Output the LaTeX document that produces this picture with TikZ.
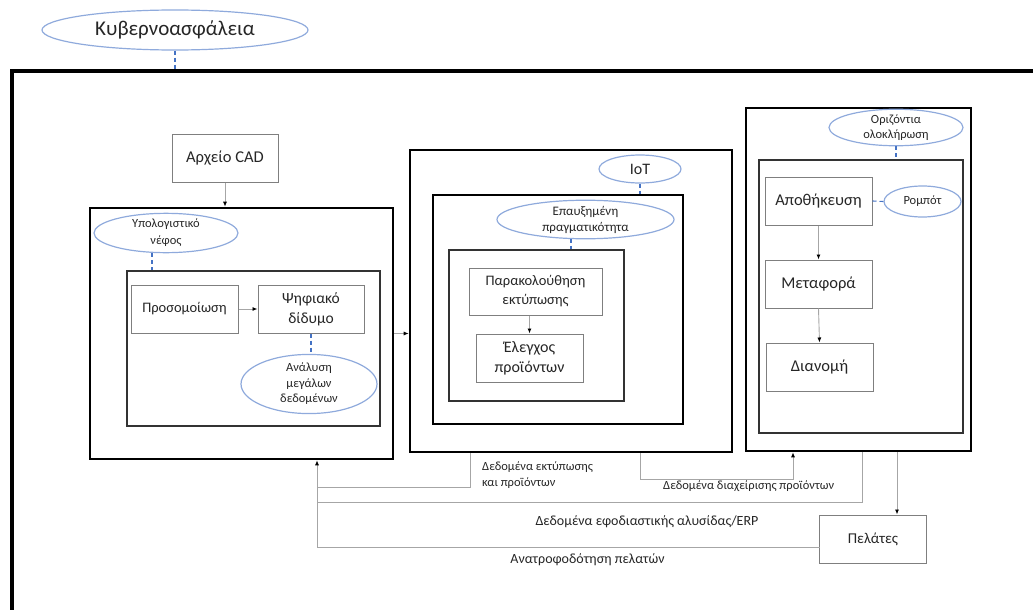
\documentclass[tikz,border=0pt]{standalone}
\usepackage{fontspec}
\setmainfont{Carlito}
\usetikzlibrary{shapes.geometric,arrows.meta}
\definecolor{ellc}{HTML}{8FAADC}
\definecolor{dashc}{HTML}{4472C4}
\definecolor{txt}{HTML}{262626}
\definecolor{boxc}{HTML}{7F7F7F}
\definecolor{connc}{HTML}{A6A6A6}
\tikzset{
  every node/.style={text=txt, inner sep=0pt, align=center},
  ell/.style={ellipse, draw=ellc, line width=1.2pt, font=\fontsize{12.5}{16}\selectfont},
  dashb/.style={draw=dashc, dash pattern=on 4pt off 3pt, line width=1.1pt},
  sbox/.style={rectangle, draw=boxc, line width=1pt, font=\fontsize{15}{19}\selectfont},
  framebig/.style={rectangle, draw=black, line width=2.6pt},
  framemid/.style={rectangle, draw=black!80, line width=1.6pt},
  conn/.style={draw=connc, line width=0.9pt},
  arr/.style={conn, -{Latex[length=5pt,width=4pt,color=black]}},
  lab/.style={font=\fontsize{12.5}{16}\selectfont, align=left},
  labb/.style={font=\fontsize{14}{17}\selectfont},
}
\begin{document}
\begin{tikzpicture}[x=1pt,y=-1pt]
\useasboundingbox (0,0) rectangle (1033,610);
% outer frame
\draw[line width=4pt, line join=miter] (12,640) -- (12,71) -- (1060,71);
\coordinate (ftop) at (175,71);
\node[ell, minimum width=266pt, minimum height=40pt, font=\fontsize{21}{24}\selectfont] (cyb) at (175,30) {Κυβερνοασφάλεια};
\draw[dashb] (cyb.south) -- (ftop);

% box 1
\node[sbox, minimum width=106pt, minimum height=48pt, font=\fontsize{16.5}{20}\selectfont] (cad) at (225,158) {Αρχείο CAD};
\node[framebig, minimum width=303pt, minimum height=251pt] (b1) at (241.5,333.5) {};
\node[framemid, minimum width=253pt, minimum height=155pt] (b1i) at (253.5,348.5) {};
\node[ell, minimum width=144pt, minimum height=33pt, font=\fontsize{12.5}{17}\selectfont] (cloud) at (166,233) {Υπολογιστικό\\νέφος};
\node[sbox, minimum width=107pt, minimum height=48pt, font=\fontsize{14.5}{18}\selectfont] (sim) at (184.5,309) {Προσομοίωση};
\node[sbox, minimum width=106pt, minimum height=48pt, font=\fontsize{15.5}{20}\selectfont] (twin) at (311,309) {Ψηφιακό\\δίδυμο};
\node[ell, minimum width=136pt, minimum height=52pt, font=\fontsize{12.5}{15.5}\selectfont] (big) at (309,384) {Ανάλυση\\μεγάλων\\δεδομένων};
\coordinate (dc1) at (152,0);
\draw[dashb] (cloud.south -| dc1) -- (b1i.north -| dc1);
\draw[dashb] (twin.south) -- (twin.south |- big.north);
\draw[arr] (cad.south) -- (cad.south |- b1.north);
\draw[arr] (sim.east) -- (twin.west);

% box 2
\node[framebig, minimum width=322pt, minimum height=302pt] (b2) at (571,301) {};
\node[framebig, minimum width=250pt, minimum height=229pt] (b2m) at (558,309.5) {};
\node[framemid, minimum width=175pt, minimum height=151pt] (b2i) at (536.5,325.5) {};
\node[ell, minimum width=82pt, minimum height=28pt, font=\fontsize{16}{18}\selectfont] (iot) at (640,169) {IoT};
\node[ell, fill=white, minimum width=177pt, minimum height=35pt, font=\fontsize{13}{16}\selectfont] (ar) at (585.5,219.5) {Επαυξημένη\\πραγματικότητα};
\node[sbox, minimum width=133pt, minimum height=47pt, font=\fontsize{14.5}{19}\selectfont] (mon) at (535.5,291.5) {Παρακολούθηση\\εκτύπωσης};
\node[sbox, minimum width=107pt, minimum height=48pt, font=\fontsize{16}{20}\selectfont] (qc) at (529.5,358) {Έλεγχος\\προϊόντων};
\coordinate (dc2) at (571,0);
\draw[dashb] (iot.south) -- (iot.south |- b2m.north);
\draw[dashb] (ar.south -| dc2) -- (b2i.north -| dc2);
\draw[arr] (mon.south -| qc.north) -- (qc.north);
\draw[arr] (b1.east |- twin.south) -- (b2.west |- twin.south);

% box 3
\node[framebig, minimum width=225pt, minimum height=343pt] (b3) at (858.5,279.5) {};
\node[framemid, minimum width=204pt, minimum height=273pt] (b3i) at (861,296.5) {};
\node[ell, minimum width=134pt, minimum height=31pt, font=\fontsize{12.5}{15}\selectfont] (hor) at (896,127.5) {Οριζόντια\\ολοκλήρωση};
\node[sbox, minimum width=107pt, minimum height=48pt, font=\fontsize{16.5}{20}\selectfont] (sto) at (818.5,201) {Αποθήκευση};
\node[ell, minimum width=77pt, minimum height=31pt, font=\fontsize{12.5}{15}\selectfont] (rob) at (922.5,201.5) {Ρομπότ};
\node[sbox, minimum width=107pt, minimum height=48pt, font=\fontsize{16.5}{20}\selectfont] (tra) at (818.5,284) {Μεταφορά};
\node[sbox, minimum width=107pt, minimum height=48pt, font=\fontsize{16.5}{20}\selectfont] (dis) at (819.5,367) {Διανομή};
\draw[dashb] (hor.south) -- (hor.south |- b3i.north);
\draw[dashb] (sto.east) -- (rob.west);
\draw[arr] (sto.south) -- (tra.north);
\draw[arr] (tra.south) -- (dis.north);

% customers
\node[sbox, minimum width=107pt, minimum height=48pt, font=\fontsize{15}{18}\selectfont] (pel) at (873,539) {Πελάτες};

% bottom connectors
\coordinate (j) at (317,0);
\coordinate (c1) at (470,487);
\coordinate (d1) at (640,479);
\coordinate (d2) at (793,479);
\coordinate (e) at (862,502);
\coordinate (fb) at (820,547);
\coordinate (p) at (897,0);
\draw[conn] (b2.south -| c1) -- (c1) -- (c1 -| j);
\draw[conn] (b3.south -| e) -- (e) -- (e -| j);
\draw[arr] (fb) -- (fb -| j) -- (b1.south -| j);
\draw[arr] (b2.south -| d1) -- (d1) -- (d2) -- (b3.south -| d2);
\draw[arr] (b3.south -| p) -- (pel.north -| p);

\node[lab, anchor=west] (l1) at (482,467) {Δεδομένα εκτύπωσης};
\node[lab, anchor=west] (l1b) at (482,483) {και προϊόντων};
\node[lab, anchor=west] (l2) at (663,486) {Δεδομένα διαχείρισης προϊόντων};
\node[labb] (l3) at (647,522) {Δεδομένα εφοδιαστικής αλυσίδας/ERP};
\node[labb] (l4) at (587.5,560) {Ανατροφοδότηση πελατών};
\end{tikzpicture}
\end{document}
